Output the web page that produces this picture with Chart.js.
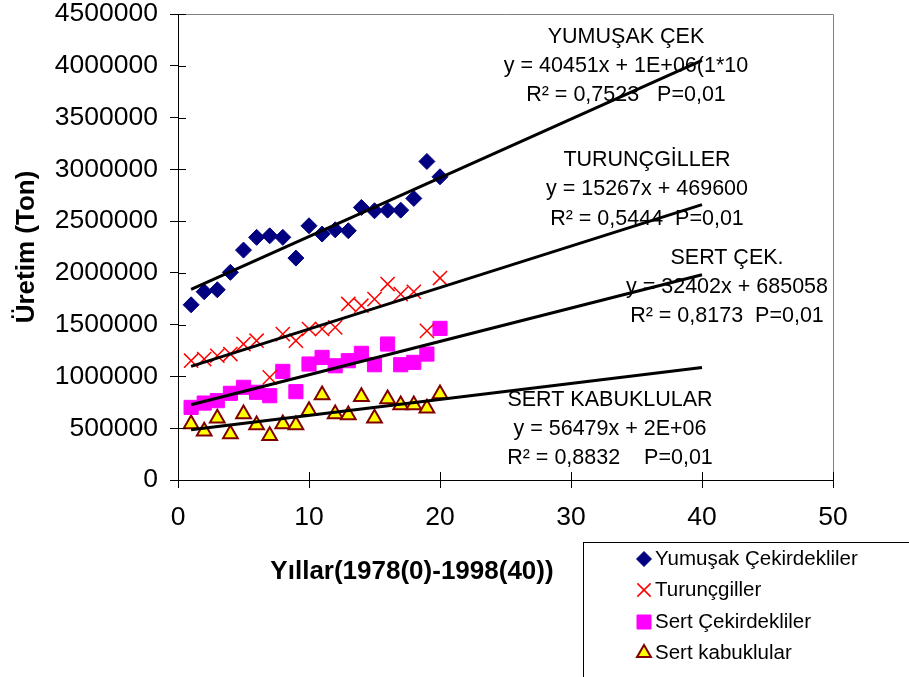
<!DOCTYPE html>
<html>
<head>
<meta charset="utf-8">
<script src="https://cdn.jsdelivr.net/npm/chart.js@4.4.0/dist/chart.umd.min.js"></script>
<style>body{margin:0;background:#fff}</style>
</head>
<body>
<canvas id="chart" width="909" height="677"></canvas>
<script>
// years (1..20) and production in tons
const years = [1,2,3,4,5,6,7,8,9,10,11,12,13,14,15,16,17,18,19,20];
const yumusak = [1692000,1818000,1837000,2005000,2220000,2343000,2358000,2343000,2143000,2455000,2375000,2416000,2407000,2632000,2600000,2606000,2606000,2719000,3076000,2928000];
const turunc = [1152000,1168000,1200000,1216000,1313000,1345000,991000,1409000,1345000,1458000,1458000,1474000,1700000,1683000,1747000,1892000,1795000,1818000,1440000,1950000];
const sertCek = [701000,743000,766000,837000,895000,847000,814000,1049000,853000,1120000,1184000,1103000,1152000,1223000,1113000,1313000,1113000,1136000,1216000,1464000];
const sertKabuk = [540000,470000,596000,444000,637000,531000,428000,540000,531000,669000,820000,637000,627000,804000,596000,782000,724000,724000,692000,830000];
const seriesNames = ['Yumuşak Çekirdekliler', 'Turunçgiller', 'Sert Çekirdekliler', 'Sert kabuklular'];
const trendFrom = 1, trendTo = 40;

// equation labels, as they appear in the chart
const eqLabels = [
  ['YUMUŞAK ÇEK', 'y = 40451x + 1E+06(1*10', 'R² = 0,7523   P=0,01'],
  ['TURUNÇGİLLER', 'y = 15267x + 469600', 'R² = 0,5444  P=0,01'],
  ['SERT ÇEK.', 'y = 32402x + 685058', 'R² = 0,8173  P=0,01'],
  ['SERT KABUKLULAR', 'y = 56479x + 2E+06', 'R² = 0,8832    P=0,01']
];

const FONT = '"Liberation Sans", Arial, sans-serif';

function pts(vals) { return years.map((x, i) => ({x: x, y: vals[i]})); }

// least squares trend line, like the spreadsheet did
function trend(vals) {
  const n = years.length;
  const mx = years.reduce((a, b) => a + b, 0) / n;
  const my = vals.reduce((a, b) => a + b, 0) / n;
  let sxy = 0, sxx = 0;
  years.forEach((x, i) => { sxy += (x - mx) * (vals[i] - my); sxx += (x - mx) * (x - mx); });
  const b = sxy / sxx, a = my - b * mx;
  return [{x: trendFrom, y: a + b * trendFrom}, {x: trendTo, y: a + b * trendTo}];
}

const styles = [
  {pointStyle: 'rectRot', radius: 8, bg: '#000080', border: '#000080', bw: 1},
  {pointStyle: 'crossRot', radius: 10, bg: '#FF0000', border: '#FF0000', bw: 1.5},
  {pointStyle: 'rect', radius: 10, bg: '#FF00FF', border: '#FF00FF', bw: 1},
  {pointStyle: 'triangle', radius: 8.5, bg: '#FFFF00', border: '#800000', bw: 2}
];
const allSeries = [yumusak, turunc, sertCek, sertKabuk];

const datasets = [];
allSeries.forEach((vals, i) => {
  const s = styles[i];
  datasets.push({
    type: 'scatter', label: seriesNames[i], data: pts(vals), order: 2,
    pointStyle: s.pointStyle, pointRadius: s.radius,
    pointBackgroundColor: s.bg, pointBorderColor: s.border, pointBorderWidth: s.bw
  });
});
allSeries.forEach((vals) => {
  datasets.push({
    type: 'line', data: trend(vals), order: 1,
    borderColor: '#000', borderWidth: 3, pointRadius: 0, fill: false
  });
});

// where the equation blocks sit (centre x, first line y, line gap)
const eqPos = [[626, 37, 29], [647, 160, 29.5], [727, 258, 29], [610, 400, 29]];

function drawMarker(ctx, style, x, y, r) {
  ctx.save();
  ctx.fillStyle = style.bg; ctx.strokeStyle = style.border; ctx.lineWidth = style.bw;
  ctx.beginPath();
  if (style.pointStyle === 'rectRot') {
    ctx.moveTo(x - r, y); ctx.lineTo(x, y - r); ctx.lineTo(x + r, y); ctx.lineTo(x, y + r); ctx.closePath();
    ctx.fill(); ctx.stroke();
  } else if (style.pointStyle === 'crossRot') {
    const d = r * 0.7;
    ctx.moveTo(x - d, y - d); ctx.lineTo(x + d, y + d);
    ctx.moveTo(x + d, y - d); ctx.lineTo(x - d, y + d);
    ctx.stroke();
  } else if (style.pointStyle === 'rect') {
    const d = r * 0.7;
    ctx.rect(x - d, y - d, 2 * d, 2 * d); ctx.fill(); ctx.stroke();
  } else {
    ctx.moveTo(x, y - r); ctx.lineTo(x + r * 0.87, y + r / 2); ctx.lineTo(x - r * 0.87, y + r / 2); ctx.closePath();
    ctx.fill(); ctx.stroke();
  }
  ctx.restore();
}

const extras = {
  id: 'extras',
  beforeDatasetsDraw(chart) {
    const {ctx, chartArea: a} = chart;
    ctx.save();
    // grey plot frame on top and right
    ctx.strokeStyle = '#808080'; ctx.lineWidth = 1;
    ctx.beginPath();
    ctx.moveTo(a.left, a.top + 0.5); ctx.lineTo(a.right + 0.5, a.top + 0.5); ctx.lineTo(a.right + 0.5, a.bottom);
    ctx.stroke();
    // equation labels
    ctx.fillStyle = '#000'; ctx.font = '21.5px ' + FONT;
    ctx.textAlign = 'center'; ctx.textBaseline = 'middle';
    eqLabels.forEach((lines, i) => {
      const [cx, cy, gap] = eqPos[i];
      lines.forEach((t, j) => ctx.fillText(t, cx, cy + j * gap));
    });
    ctx.restore();
  },
  afterDraw(chart) {
    const {ctx, chartArea: a, scales} = chart;
    ctx.save();
    // inner half of the crossing tick marks
    ctx.strokeStyle = '#000'; ctx.lineWidth = 1;
    ctx.beginPath();
    scales.y.ticks.forEach((t, i) => {
      const py = Math.round(scales.y.getPixelForTick(i)) + 0.5;
      ctx.moveTo(a.left, py); ctx.lineTo(a.left + 8, py);
    });
    scales.x.ticks.forEach((t, i) => {
      const px = Math.round(scales.x.getPixelForTick(i)) + 0.5;
      ctx.moveTo(px, a.bottom); ctx.lineTo(px, a.bottom - 8);
    });
    ctx.stroke();
    // x axis title
    ctx.fillStyle = '#000'; ctx.font = 'bold 26px ' + FONT;
    ctx.textAlign = 'center'; ctx.textBaseline = 'middle';
    ctx.fillText('Yıllar(1978(0)-1998(40))', 412, 572);
    // legend box
    ctx.strokeStyle = '#000';
    ctx.strokeRect(583.5, 542.5, 400, 200);
    ctx.font = '20.5px ' + FONT; ctx.textAlign = 'left';
    const rows = [559, 590, 622, 653];
    seriesNames.forEach((name, i) => {
      drawMarker(ctx, styles[i], 644, rows[i], [7.5, 9.5, 10, 8][i]);
      ctx.fillStyle = '#000';
      ctx.fillText(name, 655, rows[i]);
    });
    ctx.restore();
  }
};

new Chart(document.getElementById('chart'), {
  data: {datasets: datasets},
  options: {
    responsive: false,
    animation: false,
    events: [],
    layout: {padding: {top: 14, right: 76, left: 0, bottom: 0}},
    plugins: {legend: {display: false}, tooltip: {enabled: false}},
    scales: {
      x: {
        type: 'linear', min: 0, max: 50,
        ticks: {stepSize: 10, color: '#000', padding: 14, font: {size: 26.5, family: FONT}},
        grid: {drawOnChartArea: false, color: '#000', tickLength: 8},
        border: {color: '#000', width: 1},
        afterFit(scale) { scale.height = 197; }
      },
      y: {
        type: 'linear', min: 0, max: 4500000,
        ticks: {stepSize: 500000, color: '#000', padding: 12, font: {size: 26.5, family: FONT},
          callback: (v) => String(v)},
        grid: {drawOnChartArea: false, color: '#000', tickLength: 8},
        border: {color: '#000', width: 1},
        title: {display: true, text: 'Üretim (Ton)', color: '#000', padding: {top: 11, bottom: 0},
          font: {size: 26, weight: 'bold', family: FONT}},
        afterFit(scale) { scale.width = 178; scale.paddingTop = 0; scale.paddingBottom = 0; }
      }
    }
  },
  plugins: [extras]
});
</script>
</body>
</html>
